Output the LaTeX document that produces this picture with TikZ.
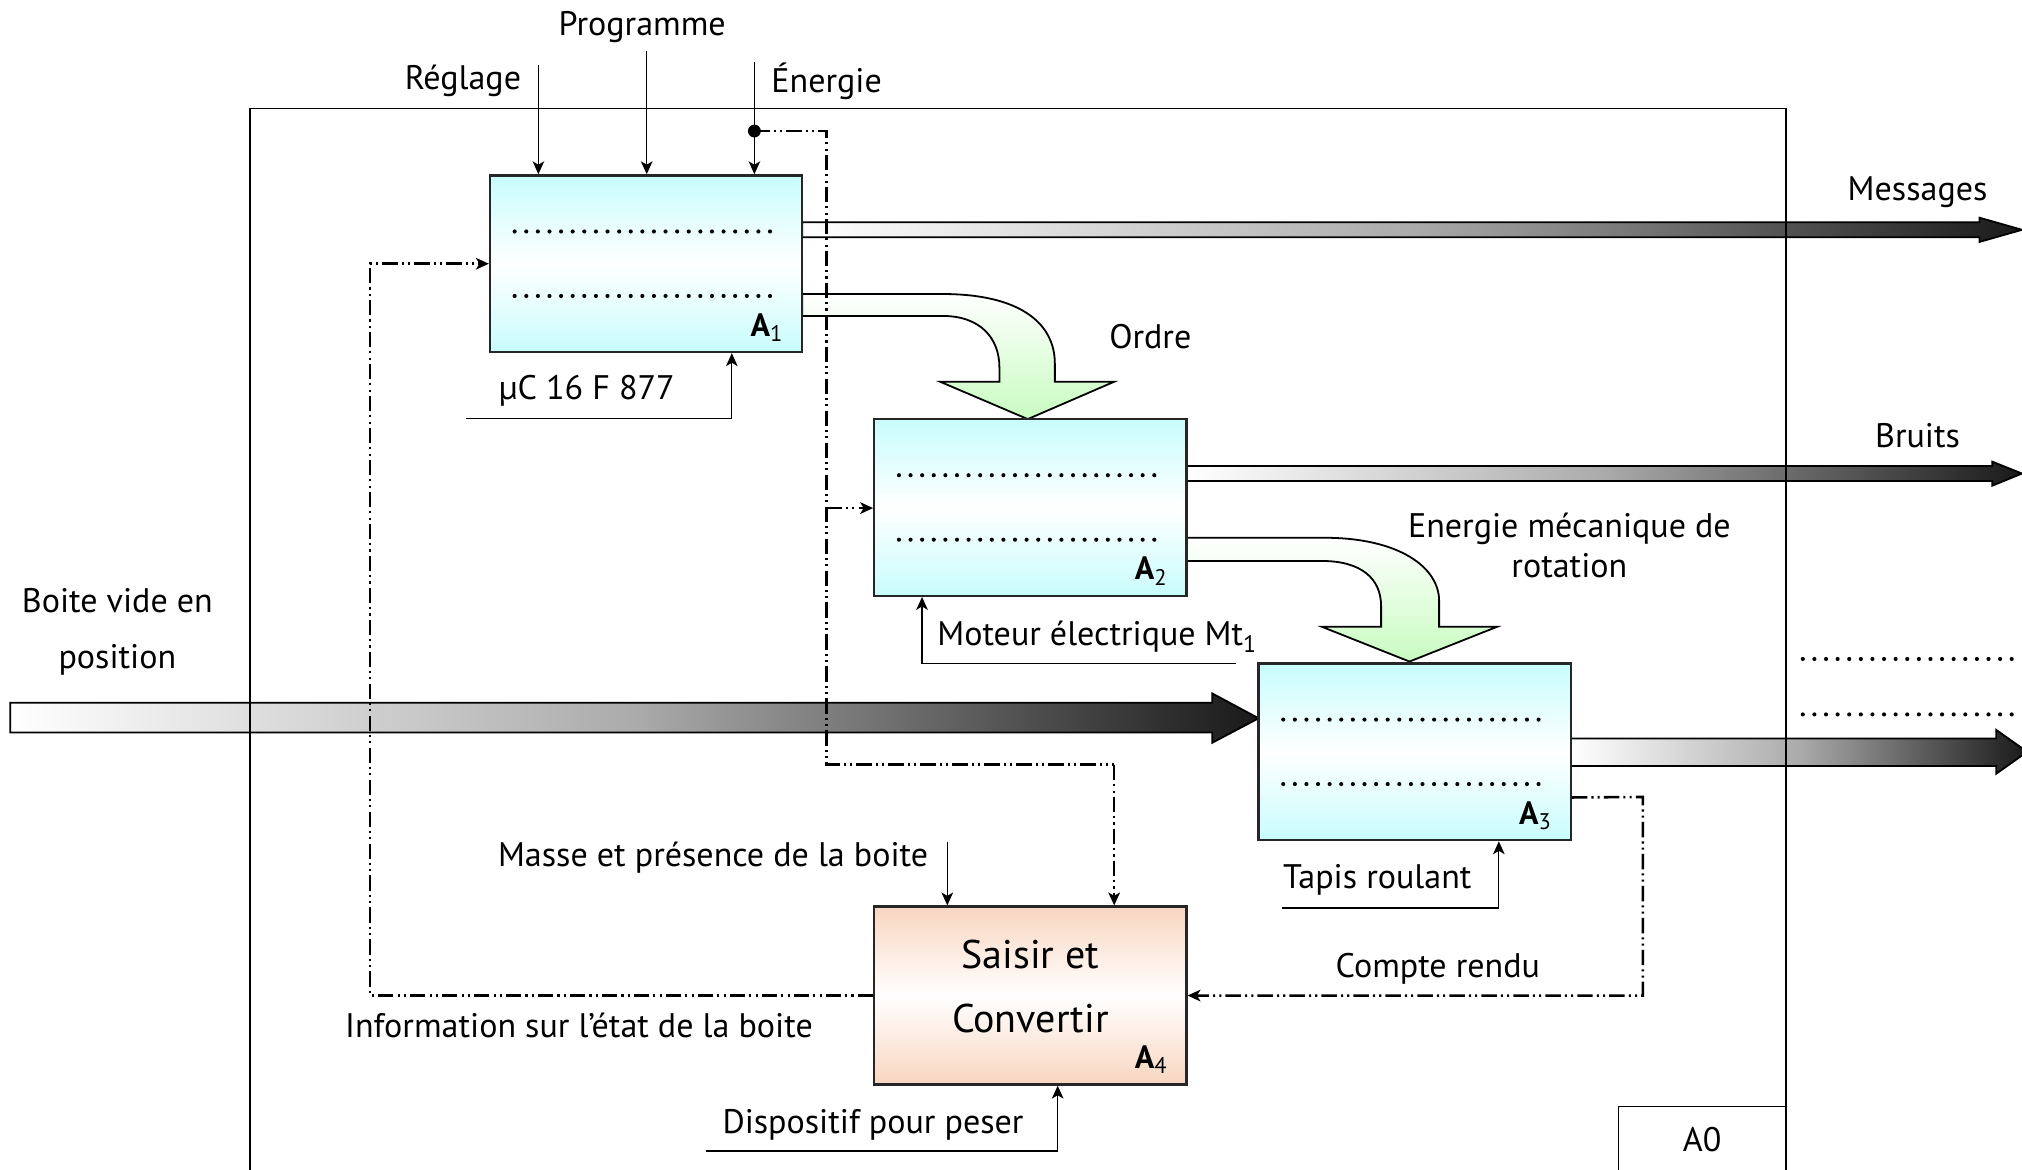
\documentclass[tikz,border=0pt]{standalone}
\usepackage{fontspec}
\setmainfont{PT Sans}
\usetikzlibrary{arrows.meta,calc}
\definecolor{cy}{HTML}{C8FCFC}
\definecolor{pe}{HTML}{F8D6C0}
\definecolor{gr}{HTML}{C8FCC0}
\begin{document}
\begin{tikzpicture}[x=0.5pt,y=-0.5pt,
  font=\fontsize{13.2}{15}\selectfont,
  blk/.style={draw=black!85, line width=0.9pt, minimum width=121pt, minimum height=68.5pt, inner sep=0pt,
    top color=cy, bottom color=cy, middle color=white},
  blkp/.style={draw=black!85, line width=0.9pt, minimum width=121pt, minimum height=69pt, inner sep=0pt,
    top color=pe, bottom color=pe, middle color=white},
  fat/.style={draw=black, line width=0.7pt, left color=white, right color=black!90, middle color=black!33},
  bentarrow/.style={draw=black, line width=0.7pt, top color=white, bottom color=gr},
  thin/.style={line width=0.5pt, -{Stealth[length=5pt,width=4.5pt,inset=1.3pt]}},
  dd/.style={line width=1pt, dash pattern=on 6pt off 1.6pt on 0.8pt off 1.6pt on 0.8pt off 1.6pt},
  dda/.style={dd, -{Stealth[length=5pt,width=4.5pt,inset=1.3pt]}},
  dots/.style={line width=1.6pt, line cap=round, dash pattern=on 0pt off 4.5pt},
  lab/.style={inner sep=0pt, font=\fontsize{12.5}{14}\selectfont},
  txt/.style={inner sep=0pt}
]
\useasboundingbox (0,0) rectangle (1568,907);

% fat arrows
\path[fat] (622,172.4) -- (1535,172.4) -- (1535,168.8) -- (1568,178.2) -- (1535,187.6) -- (1535,184) -- (622,184) -- cycle;
\path[fat] (920,361.4) -- (1545,361.4) -- (1545,358) -- (1568,367.2) -- (1545,376.6) -- (1545,373) -- (920,373) -- cycle;
\path[fat] (1218,572.6) -- (1548,572.6) -- (1548,566) -- (1572,583) -- (1548,600) -- (1548,594) -- (1218,594) -- cycle;
\path[fat] (8,545) -- (940,545) -- (940,537.7) -- (976,557) -- (940,576) -- (940,568) -- (8,568) -- cycle;

% bent arrows
\path[bentarrow] (622,228) -- (731,228) .. controls (790,228) and (818,250) .. (818,282) -- (818,296) -- (864,296) -- (797,325) -- (729,296) -- (775,296) -- (775,285) .. controls (775,262) and (760,245) .. (731,245) -- (622,245) -- cycle;
\path[bentarrow] (920,417) -- (1027,417) .. controls (1085,417) and (1116,440) .. (1116,466) -- (1116,486) -- (1161,486) -- (1093,513) -- (1025,486) -- (1071,486) -- (1071,470) .. controls (1071,449) and (1056,435) .. (1025,435) -- (920,435) -- cycle;

% frame
\draw[line width=0.6pt] (194,915) -- (194,84) -- (1385,84) -- (1385,915);
\draw[line width=0.6pt] (1255,915) -- (1255,858) -- (1385,858);
\node[txt] (a0) at (1320,884) {A0};

% boxes
\node[blk] (A1) at (501,204.5) {};
\node[blk] (A2) at (799,393.5) {};
\node[blk] (A3) at (1097,583) {};
\node[blkp] (A4) at (799,772) {};
\node[txt, align=center, font=\fontsize{15.5}{25}\selectfont] (A4t) at (799,765) {Saisir et\\Convertir};

\foreach \b in {A1,A2,A3}{
  \draw[dots] ($(\b.west)+(20,-25)$) -- ($(\b.east)+(-18,-25)$);
  \draw[dots] ($(\b.west)+(20,25)$) -- ($(\b.east)+(-18,25)$);
}
\draw[dots] (1398,511) -- (1568,511);
\draw[dots] (1398,554) -- (1568,554);

\node[lab] (l1) at ($(A1.south east)+(-28,-20)$) {\textbf{A}\textsubscript{1}};
\node[lab] (l2) at ($(A2.south east)+(-28,-20)$) {\textbf{A}\textsubscript{2}};
\node[lab] (l3) at ($(A3.south east)+(-28,-20)$) {\textbf{A}\textsubscript{3}};
\node[lab] (l4) at ($(A4.south east)+(-28,-20)$) {\textbf{A}\textsubscript{4}};

% top inputs
\coordinate (reg) at (417.5,50.4);
\coordinate (prg) at (501.5,39.3);
\coordinate (ene) at (585,48.3);
\coordinate (jn) at (585,101.6);
\draw[thin] (reg) -- (reg |- A1.north);
\draw[thin] (prg) -- (prg |- A1.north);
\draw[thin] (ene) -- (ene |- A1.north);
\fill (jn) circle (5);
\node[txt] (tprg) at (498,21) {Programme};
\node[txt] (treg) at (359,63) {Réglage};
\node[txt] (tene) at (641,63) {Énergie};

% dash-dot control lines
\coordinate (d1) at (641,101.6);
\coordinate (d2) at (641,593);
\coordinate (d3) at (864,593);
\coordinate (d4) at (641,394);
\draw[dd] (jn) -- (d1) -- (d2) -- (d3);
\draw[dda] (d3) -- (d3 |- A4.north);
\draw[dda] (d4) -- (d4 -| A2.west);
\coordinate (d5) at (287,772);
\draw[dda] (A4.west) -- (d5) |- (A1.west);
\coordinate (c1) at ($(A3.south east)+(0,-34)$);
\coordinate (c2) at (1274,618);
\draw[dda] (c1) -- (c2) |- (A4.east);

% mechanisms
\coordinate (m1a) at (361,324.4);
\coordinate (m1b) at (567.5,324.4);
\draw[thin] (m1a) -- (m1b) -- (m1b |- A1.south);
\coordinate (m2a) at (958.6,514.4);
\coordinate (m2b) at (715,514.4);
\draw[thin] (m2a) -- (m2b) -- (m2b |- A2.south);
\coordinate (m3a) at (994,704);
\coordinate (m3b) at (1162.3,704);
\draw[thin] (m3a) -- (m3b) -- (m3b |- A3.south);
\coordinate (m4a) at (547.5,892.6);
\coordinate (m4b) at (820.2,892.6);
\draw[thin] (m4a) -- (m4b) -- (m4b |- A4.south);
\coordinate (ms) at (734.6,652.7);
\draw[thin] (ms) -- (ms |- A4.north);

% labels
\node[txt] (tmsg) at (1487,149) {Messages};
\node[txt] (tord) at (892,261) {Ordre};
\node[txt] (tmu) at (455,303) {µC 16 F 877};
\node[txt] (tbru) at (1487,338) {Bruits};
\node[txt, align=center, font=\fontsize{13.2}{15.5}\selectfont] (temec) at (1217,423) {Energie mécanique de\\rotation};
\node[txt, align=center, font=\fontsize{13.2}{22}\selectfont] (tboi) at (91,490) {Boite vide en\\position};
\node[txt] (tmot) at (851,494) {Moteur électrique Mt\textsubscript{1}};
\node[txt] (tmas) at (553,665) {Masse et présence de la boite};
\node[txt] (ttap) at (1068,682) {Tapis roulant};
\node[txt] (tcr) at (1115,751) {Compte rendu};
\node[txt] (tinf) at (449,795) {Information sur l’état de la boite};
\node[txt] (tdis) at (677,872) {Dispositif pour peser};
\end{tikzpicture}
\end{document}
